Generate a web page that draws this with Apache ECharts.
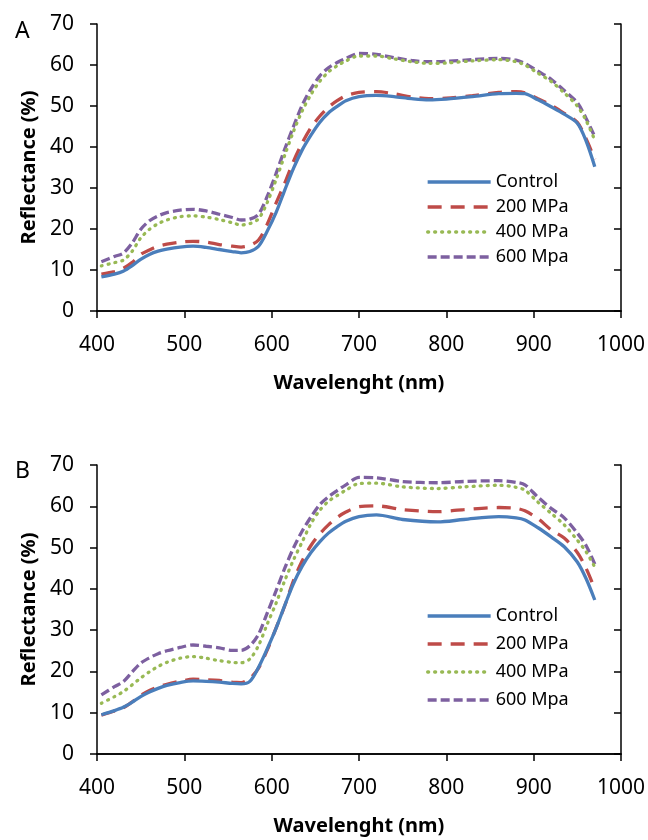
<!DOCTYPE html>
<html>
<head>
<meta charset="utf-8">
<script src="https://cdn.jsdelivr.net/npm/echarts@6/dist/echarts.min.js"></script>
<style>
  html,body{margin:0;padding:0;background:#fff;}
  #chart{width:648px;height:840px;}
</style>
</head>
<body>
<div id="chart"></div>
<script>
// wavelengths (nm) and reflectance (%)
const wlA = [405,420,430,440,450,460,470,480,495,510,525,540,555,565,575,585,595,605,615,625,635,645,655,665,675,685,700,720,740,760,780,800,830,860,880,890,905,920,935,950,960,970];
const controlA = [8.3,9.0,9.7,11.0,12.6,13.8,14.6,15.1,15.6,15.8,15.5,15.0,14.5,14.2,14.5,15.8,19.5,24.0,29.5,34.8,39.3,42.9,46.0,48.3,49.9,51.3,52.3,52.6,52.3,51.8,51.5,51.7,52.3,53.0,53.1,53.0,51.5,49.8,48.0,45.8,41.5,35.2];
const mpa200A = [9.0,9.6,10.4,11.8,13.8,14.9,15.8,16.3,16.8,17.0,16.8,16.2,15.8,15.6,16.0,17.3,21.2,26.3,31.2,36.5,41.0,44.7,47.5,49.7,51.3,52.5,53.3,53.5,53.0,52.2,51.8,51.9,52.5,53.3,53.5,53.2,51.8,50.2,48.2,46.0,42.0,37.0];
const mpa400A = [11.0,11.8,12.4,14.5,17.8,19.9,21.3,22.2,23.0,23.2,22.9,22.3,21.5,21.0,21.3,22.5,26.5,32.0,38.0,43.8,48.8,52.8,56.0,58.3,59.8,61.0,62.2,62.2,61.5,60.8,60.4,60.5,61.0,61.3,60.8,60.0,58.0,56.0,53.2,50.0,46.5,41.7];
const mpa600A = [12.0,13.3,14.1,16.5,19.9,22.0,23.2,24.0,24.6,24.8,24.4,23.6,22.8,22.2,22.4,23.6,28.0,33.5,39.5,45.0,50.2,54.2,57.3,59.3,60.6,61.6,62.8,62.6,61.8,61.1,60.8,60.9,61.3,61.6,61.2,60.4,58.5,56.5,53.8,50.8,47.0,42.5];

const wlB = [405,420,430,440,450,460,470,480,495,510,525,540,555,565,575,585,595,605,615,625,635,645,655,665,675,685,700,720,750,790,820,860,880,890,905,920,935,950,960,970];
const controlB = [9.5,10.5,11.3,12.5,13.9,15.0,15.9,16.6,17.3,17.7,17.6,17.4,17.1,17.0,17.6,21.0,25.5,30.4,36.0,41.3,45.5,48.8,51.4,53.5,55.1,56.4,57.5,57.9,56.8,56.2,56.8,57.5,57.2,56.7,54.8,52.6,50.2,46.5,42.5,37.3];
const mpa200B = [9.4,10.4,11.2,12.6,14.2,15.4,16.2,16.9,17.6,18.1,18.0,17.8,17.4,17.3,18.3,20.8,25.2,30.5,35.9,42.0,46.8,50.5,53.3,55.5,57.3,58.6,59.9,60.1,59.2,58.7,59.2,59.7,59.5,58.9,57.0,54.3,52.3,48.8,45.0,40.0];
const mpa400B = [12.3,13.9,15.1,16.7,18.4,19.9,21.2,22.2,23.2,23.6,23.2,22.6,22.2,22.1,23.0,26.3,31.5,36.5,42.0,47.0,51.4,55.8,59.0,61.2,62.6,63.9,65.5,65.6,64.7,64.3,64.7,65.1,64.6,63.9,61.0,58.3,55.5,51.8,49.0,45.3];
const mpa600B = [14.3,16.3,17.5,19.8,22.0,23.3,24.3,25.0,25.8,26.4,26.1,25.7,25.1,25.1,26.2,29.0,34.2,39.5,45.0,49.9,54.0,57.4,60.4,62.3,63.8,65.2,67.0,66.9,66.0,65.7,66.0,66.2,65.8,65.2,62.2,59.5,57.2,53.5,50.5,46.0];

const seriesNames = ['Control','200 MPa','400 MPa','600 Mpa'];
const xTicks = [400,500,600,700,800,900,1000];
const yTicks = [0,10,20,30,40,50,60,70];

const FONT = '"Noto Sans", sans-serif';
const styles = [
  {color:'#4A7EBB', type:'solid'},
  {color:'#BE4B48', type:[14,9]},
  {color:'#98B954', type:[1,6], cap:'round'},
  {color:'#7D60A0', type:[9,4]}
];

function pairs(xs, ys){ return xs.map((x,i)=>[x, ys[i]]); }

const chart = echarts.init(document.getElementById('chart'));

const grids = [
  {left:97, right:27, top:24, height:287},
  {left:97, right:27, top:465, height:289}
];

function xAxes(gi){
  const base = {
    gridIndex: gi, type:'value', min:xTicks[0], max:xTicks[xTicks.length-1], interval:100,
    axisLine:{lineStyle:{color:'#000', width:1.5}},
    splitLine:{show:false}
  };
  return [
    Object.assign({}, base, {
      axisTick:{length:7, lineStyle:{color:'#000', width:1.5}},
      axisLabel:{color:'#000', fontSize:21, fontFamily:FONT, margin:24, formatter: v => String(v)},
      name:'Wavelenght (nm)', nameLocation:'middle', nameGap:62,
      nameTextStyle:{color:'#000', fontSize:20, fontWeight:'bold', fontFamily:FONT}
    }),
    Object.assign({}, base, {
      axisTick:{inside:true, length:7, lineStyle:{color:'#000', width:1.5}},
      axisLabel:{show:false}
    })
  ];
}
function yAxes(gi){
  const base = {
    gridIndex: gi, type:'value', min:yTicks[0], max:yTicks[yTicks.length-1], interval:10,
    axisLine:{show:true, lineStyle:{color:'#000', width:1.5}},
    splitLine:{show:false}
  };
  return [
    Object.assign({}, base, {
      axisTick:{show:true, length:7, lineStyle:{color:'#000', width:1.5}},
      axisLabel:{color:'#000', fontSize:21, fontFamily:FONT, margin:23},
      name:'Reflectance (%)', nameLocation:'middle', nameGap:58,
      nameTextStyle:{color:'#000', fontSize:20, fontWeight:'bold', fontFamily:FONT}
    }),
    Object.assign({}, base, {
      axisTick:{show:true, inside:true, length:7, lineStyle:{color:'#000', width:1.5}},
      axisLabel:{show:false}
    })
  ];
}

const dataA = [controlA, mpa200A, mpa400A, mpa600A];
const dataB = [controlB, mpa200B, mpa400B, mpa600B];
const series = [];
[[wlA, dataA, 0], [wlB, dataB, 1]].forEach(([wl, sets, gi]) => {
  sets.forEach((ys, i) => {
    series.push({
      name: seriesNames[i], type:'line', xAxisIndex: gi*2, yAxisIndex: gi*2,
      data: pairs(wl, ys), smooth:0.3, symbol:'none',
      lineStyle:{color:styles[i].color, width:3.3, type:styles[i].type, cap:styles[i].cap || 'butt'},
      itemStyle:{color:styles[i].color},
      z: 4 - i
    });
  });
});

function legend(top, gap){
  return {
    data: seriesNames, orient:'vertical', left:421, top:top,
    itemWidth:63, itemHeight:14, itemGap:gap,
    itemStyle:{opacity:0},
    lineStyle:{width:3.3},
    textStyle:{color:'#000', fontSize:18, fontFamily:FONT},
    selectedMode:false
  };
}

chart.setOption({
  animation:false,
  backgroundColor:'#fff',
  title:[
    {text:'A', left:10, top:15, textStyle:{fontSize:23, fontWeight:'normal', color:'#000', fontFamily:FONT}},
    {text:'B', left:10, top:455, textStyle:{fontSize:23, fontWeight:'normal', color:'#000', fontFamily:FONT}}
  ],
  grid: grids,
  xAxis: xAxes(0).concat(xAxes(1)),
  yAxis: yAxes(0).concat(yAxes(1)),
  legend:[legend(168, 7), legend(602, 10)],
  series: series
});
</script>
</body>
</html>
